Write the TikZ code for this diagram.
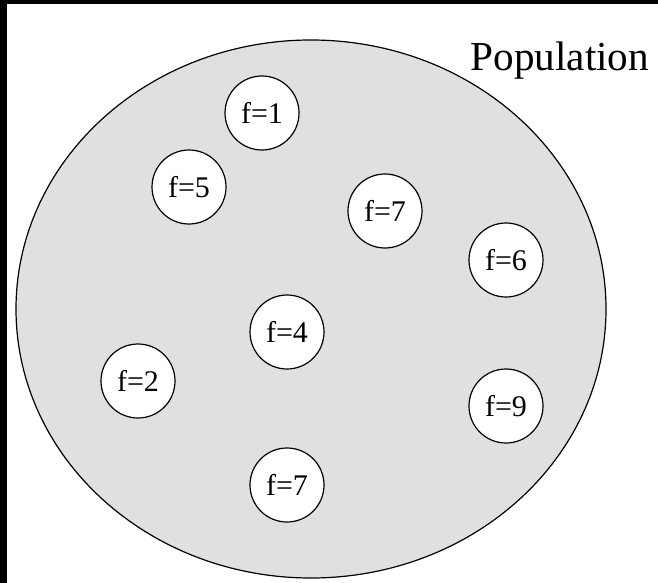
\documentclass[tikz,border=0pt]{standalone}
\usepackage{fontspec}
\setmainfont{Liberation Serif}
\usetikzlibrary{shapes.geometric}

\begin{document}
\begin{tikzpicture}[x=0.5pt,y=-0.5pt,line width=0.6pt,
  indiv/.style={circle,draw,fill=white,minimum size=37pt,inner sep=0pt,font=\fontsize{15}{15}\selectfont},
  popshape/.style={ellipse,draw,fill=black!12,minimum width=295pt,minimum height=269pt,inner sep=0pt}]
\useasboundingbox (0,0) rectangle (658,583);
\fill[black] (0,0) rectangle (658,4.5);
\fill[black] (0,0) rectangle (7,583);
\node[popshape] (pop) at (311,309) {};
\node[anchor=base west,inner sep=0pt,font=\fontsize{20.6}{20.6}\selectfont] (poplabel) at (470,71) {Population};
% individuals
\node[indiv] (f1) at (262,113) {f=1};
\node[indiv] (f5) at (189,187) {f=5};
\node[indiv] (f7a) at (385,211) {f=7};
\node[indiv] (f6) at (506,260) {f=6};
\node[indiv] (f4) at (287,332) {f=4};
\node[indiv] (f2) at (138,381) {f=2};
\node[indiv] (f9) at (506,406) {f=9};
\node[indiv] (f7b) at (287,485) {f=7};
\end{tikzpicture}
\end{document}
